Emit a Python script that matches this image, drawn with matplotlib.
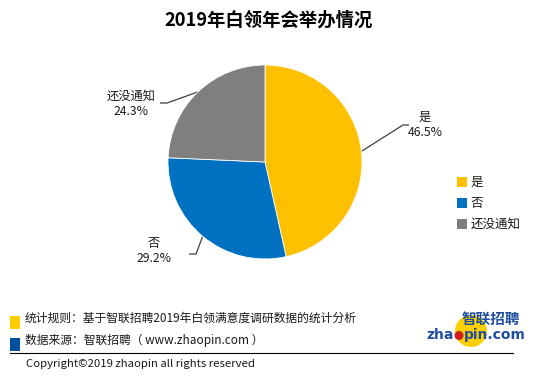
import matplotlib
matplotlib.use("Agg")
import matplotlib.pyplot as plt
from matplotlib.patches import Rectangle, Circle
import numpy as np

plt.rcParams['font.family'] = ['Noto Sans CJK SC', 'DejaVu Sans']

title = "2019年白领年会举办情况"
categories = ["是", "否", "还没通知"]
values = [46.5, 29.2, 24.3]
colors = ["#FFC000", "#0070C0", "#7F7F7F"]
note1 = "统计规则：基于智联招聘2019年白领满意度调研数据的统计分析"
note2 = "数据来源：智联招聘（ www.zhaopin.com ）"
copyright_text = "Copyright©2019 zhaopin all rights reserved"

W, H = 536, 382
fig = plt.figure(figsize=(W / 100, H / 100), dpi=100)
fig.patch.set_facecolor("white")

ov = fig.add_axes([0, 0, 1, 1])
ov.set_xlim(0, W)
ov.set_ylim(H, 0)
ov.axis("off")

cx, cy, r = 265, 162, 97
pax = fig.add_axes([(cx - r) / W, (H - cy - r) / H, 2 * r / W, 2 * r / H])
wedges, _ = pax.pie(values, colors=colors, startangle=90, counterclock=False,
                    radius=1, wedgeprops=dict(linewidth=0.6, edgecolor="white"))
pax.set_xlim(-1, 1)
pax.set_ylim(-1, 1)
pax.set_aspect("auto")
pax.axis("off")

layouts = [
    dict(elbow=(403, 125), end=(409, 125), text=(425, 125), ha="center"),
    dict(elbow=(196, 254), end=(189, 254), text=(154, 251), ha="center"),
    dict(elbow=(167, 103), end=(160, 103), text=(131, 104), ha="center"),
]
for w, cat, val, lay in zip(wedges, categories, values, layouts):
    mid = np.deg2rad((w.theta1 + w.theta2) / 2)
    ex, ey = cx + r * np.cos(mid), cy - r * np.sin(mid)
    xs = [ex, lay["elbow"][0], lay["end"][0]]
    ys = [ey, lay["elbow"][1], lay["end"][1]]
    ov.plot(xs, ys, color="#404040", lw=0.9, solid_capstyle="butt")
    ov.text(lay["text"][0], lay["text"][1], f"{cat}\n{val:.1f}%", ha=lay["ha"],
            va="center", fontsize=8.8, color="#1a1a1a", linespacing=1.2)

for i, (cat, col) in enumerate(zip(categories, colors)):
    y = 182 + i * 21
    ov.add_patch(Rectangle((457, y - 5), 10, 10, facecolor=col, edgecolor="none"))
    ov.text(471, y, cat, ha="left", va="center", fontsize=9, color="#1a1a1a")

ov.text(269, 20, title, ha="center", va="center", fontsize=13.2,
        fontweight="bold", color="black")

ov.add_patch(Rectangle((10, 316), 10, 13, facecolor="#FFCC00", edgecolor="none"))
ov.text(25, 318, note1, ha="left", va="center", fontsize=8.5, color="#1a1a1a")
ov.add_patch(Rectangle((10, 338), 10, 13, facecolor="#0050A0", edgecolor="none"))
ov.text(25, 340, note2, ha="left", va="center", fontsize=8.5, color="#1a1a1a")
ov.plot([10, 513], [353, 353], color="black", lw=0.8)
ov.text(26, 364, copyright_text, ha="left", va="center", fontsize=8.2,
        color="#1a1a1a")

# logo
logo_blue = "#1F4E9E"
ov.add_patch(Circle((471, 331), 16, facecolor="#FFD000", edgecolor="none"))
ov.text(491, 319, "智联招聘", ha="center", va="center", fontsize=10.5,
        fontweight="bold", style="italic", color=logo_blue)
ov.text(454, 335, "zha", ha="right", va="center", fontsize=10,
        fontweight="bold", color=logo_blue, family="DejaVu Sans")
ov.add_patch(Circle((459, 335.5), 4.5, facecolor="#D0201F", edgecolor="none"))
ov.text(464, 335, "pin.com", ha="left", va="center", fontsize=10,
        fontweight="bold", color=logo_blue, family="DejaVu Sans")

fig.savefig("out.png", dpi=100, facecolor="white")
